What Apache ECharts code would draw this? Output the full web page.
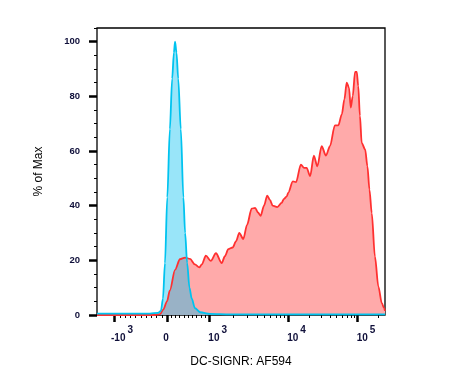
<!DOCTYPE html>
<html><head><meta charset="utf-8">
<script src="https://cdn.jsdelivr.net/npm/echarts@6/dist/echarts.min.js"></script>
<style>html,body{margin:0;padding:0;background:#fff}#c{width:451px;height:374px}</style>
</head><body><div id="c"></div>
<script>
// x values are display channels (0-1000) across the biexponential axis
const redX = [0,200,219,230,243,253,271,288,306,323,340,355,364,378,395,413,433,444,456,471,483,494,508,521,537,549,559,568,580,591,601,610,626,641,649,659,664,680,691,708,719,728,740,753,765,780,795,809,826,838,850,859,867,875,881,888,896,902,907,913,919,931,939,946,954,965,977,989,997,1000];
const redY = [0,0,0.3,2,5,9,16.5,20.4,21,20.5,18.5,17.4,18.5,21.7,19.8,22.6,19,21.5,24.1,24.7,27,30,27.8,33,38.9,39.2,37.5,36.3,40,43.7,42,40,39.5,41,42.5,43.4,44.7,48.9,48.6,55,53.8,53.8,50.8,58.3,54.4,61.8,58.3,61.8,69.4,69.4,73.4,78.9,85,83.2,75.9,80.1,88.9,88.9,83.8,72.8,63,60.6,54.4,45.9,37.3,21.4,10.4,4.3,2.5,1.5];
const blueX = [0,184,212,222,229,236,244,253,261,267,271,276,282,291,300,306,313,321,329,340,358,392,462,1000];
const blueY = [0.5,0.5,0.8,1.5,6,19,43,68,86.5,96,100,96,86.5,68,43,30,19,10,6,2.5,1,0.4,0.2,0.2];

const yMajorTicks = [0,20,40,60,80,100];
const yMinorTicks = [5,10,15,25,30,35,45,50,55,65,70,75,85,90,95,105];
const xMajorValues = [-1000, 0, 1000, 10000, 100000];
const xMajorBase = ['-10', '0', '10', '10', '10'];
const xMajorExp = ['3', '', '3', '4', '5'];
const xMinorValues = [-900,-800,-700,-600,-500,-400,-300,-200,-100,
  100,200,300,400,500,600,700,800,900,
  2000,3000,4000,5000,6000,7000,8000,9000,
  20000,30000,40000,50000,60000,70000,80000,90000,200000];

// axis transform anchors: value -> display channel
const anchorV = [-1000, 0, 1000, 10000, 100000];
const anchorC = [61.5, 243, 390, 664, 905];
function toChannel(v) {
  if (v <= 0) return anchorC[1] + (v / 1000) * (anchorC[1] - anchorC[0]);
  if (v <= 1000) return anchorC[1] + (v / 1000) * (anchorC[2] - anchorC[1]);
  if (v <= 10000) return anchorC[2] + Math.log10(v / 1000) * (anchorC[3] - anchorC[2]);
  if (v <= 100000) return anchorC[3] + Math.log10(v / 10000) * (anchorC[4] - anchorC[3]);
  return anchorC[4] + Math.log10(v / 100000) * (anchorC[4] - anchorC[3]);
}
const pxPerChannel = 288 / 1000;
const labelShiftPx = [-3.7, -3.7, -1, -1, -1];
const majorC = xMajorValues.map(toChannel);
const labelC = majorC.map((c, i) => c + labelShiftPx[i] / pxPerChannel);
const minorC = xMinorValues.map(toChannel);

const FONT = 'Liberation Sans, Arial, Helvetica, sans-serif';
const zip = (a, b) => a.map((x, i) => [x, b[i]]);

const chart = echarts.init(document.getElementById('c'), null, {renderer: 'canvas'});
chart.setOption({
  animation: false,
  backgroundColor: '#fff',
  grid: {left: 97, right: 66, top: 28, bottom: 59, show: true, borderColor: '#000', borderWidth: 1.3,
         backgroundColor: 'transparent', outerBoundsMode: 'none'},
  xAxis: [{
    type: 'value', min: 0, max: 1000, position: 'bottom', offset: 1,
    name: 'DC-SIGNR: AF594', nameLocation: 'middle', nameGap: 40,
    nameTextStyle: {fontFamily: FONT, fontSize: 12, color: '#000'},
    axisLine: {show: false},
    splitLine: {show: false},
    axisTick: {show: true, customValues: majorC, length: 7, lineStyle: {color: '#000', width: 2.5}},
    axisLabel: {
      show: true, customValues: labelC, align: 'left', margin: 9,
      formatter: function (v) {
        let best = 0, d = 1e9;
        labelC.forEach((c, i) => { if (Math.abs(c - v) < d) { d = Math.abs(c - v); best = i; } });
        return '{b|' + xMajorBase[best] + '}' + (xMajorExp[best] ? '{s|' + xMajorExp[best] + '}' : '');
      },
      rich: {
        b: {fontFamily: FONT, fontSize: 10, fontWeight: 'bold', color: '#10103a', lineHeight: 18, verticalAlign: 'bottom'},
        s: {fontFamily: FONT, fontSize: 10, fontWeight: 'bold', color: '#10103a', lineHeight: 18, verticalAlign: 'top', padding: [0, 0, 0, 2]}
      }
    }
  }, {
    type: 'value', min: 0, max: 1000, position: 'bottom', offset: 1,
    axisLine: {show: false}, splitLine: {show: false}, axisLabel: {show: false},
    axisTick: {show: true, customValues: minorC, length: 3, lineStyle: {color: '#000', width: 1}}
  }],
  yAxis: [{
    type: 'value', min: 0, max: 105, position: 'left',
    name: '% of Max', nameLocation: 'middle', nameGap: 52,
    nameTextStyle: {fontFamily: FONT, fontSize: 12, color: '#000'},
    axisLine: {show: false}, splitLine: {show: false},
    axisTick: {show: true, customValues: yMajorTicks, length: 8, lineStyle: {color: '#000', width: 2.5}},
    axisLabel: {show: true, customValues: yMajorTicks, margin: 17, fontFamily: FONT, fontSize: 9.5, fontWeight: 'bold', color: '#10103a'}
  }, {
    type: 'value', min: 0, max: 105, position: 'left', offset: 0,
    axisLine: {show: false}, splitLine: {show: false}, axisLabel: {show: false},
    axisTick: {show: true, customValues: yMinorTicks, length: 3, lineStyle: {color: '#000', width: 1}}
  }],
  series: [{
    type: 'line', xAxisIndex: 0, yAxisIndex: 0, data: zip(redX, redY),
    showSymbol: false, smooth: 0.3, smoothMonotone: 'x',
    lineStyle: {color: '#ff3030', width: 1.8},
    areaStyle: {color: '#ffaaaa', opacity: 1}
  }, {
    type: 'line', xAxisIndex: 0, yAxisIndex: 0, data: zip(blueX, blueY),
    showSymbol: false, smooth: 0.3, smoothMonotone: 'x',
    lineStyle: {color: '#00c3ef', width: 1.8},
    areaStyle: {color: 'rgb(0,190,240)', opacity: 0.4}
  }]
});
</script></body></html>
